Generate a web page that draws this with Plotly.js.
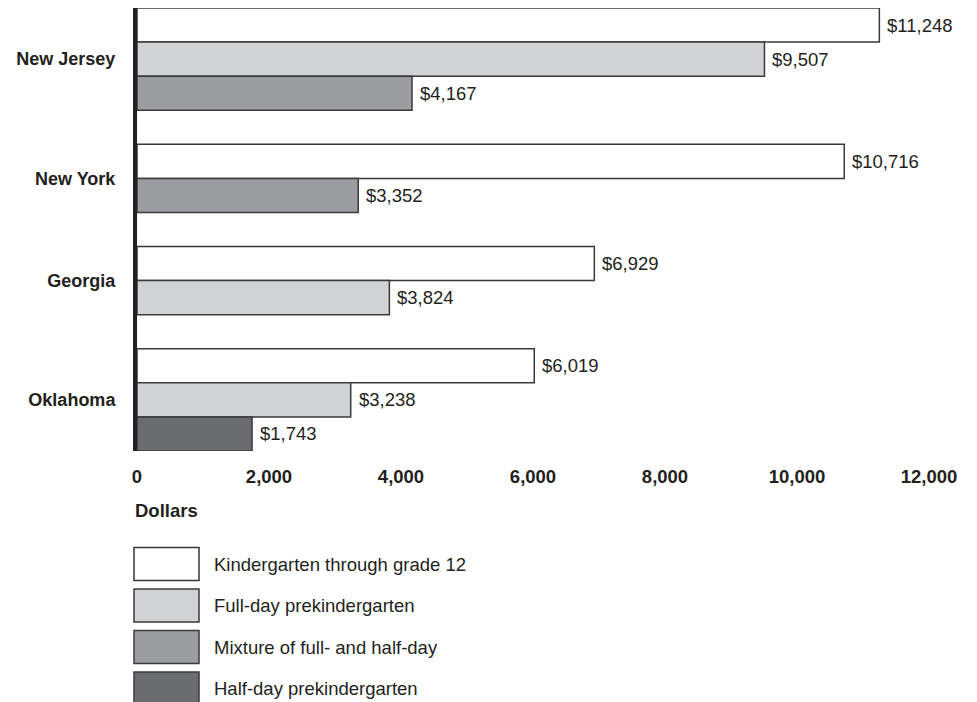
<!DOCTYPE html>
<html>
<head>
<meta charset="utf-8">
<script src="https://cdn.plot.ly/plotly-3.0.1.min.js"></script>
<style>
  html, body { margin: 0; padding: 0; background: #fff; }
  #chart { width: 977px; height: 702px; }
</style>
</head>
<body>
<div id="chart"></div>
<script>
// ---- Data ----
const states = ["New Jersey", "New York", "Georgia", "Oklahoma"];
const seriesNames = [
  "Kindergarten through grade 12",
  "Full-day prekindergarten",
  "Mixture of full- and half-day",
  "Half-day prekindergarten"
];
const k12      = [11248, 10716, 6929, 6019];
const fullDay  = [9507,  null,  3824, 3238];
const mixture  = [4167,  3352,  null, null];
const halfDay  = [null,  null,  null, 1743];
const xTickVals = [0, 2000, 4000, 6000, 8000, 10000, 12000];
const xTickText = ["0", "2,000", "4,000", "6,000", "8,000", "10,000", "12,000"];

// ---- Styles ----
const seriesValues = [k12, fullDay, mixture, halfDay];
const seriesColors = ["#ffffff", "#d2d3d5", "#9c9da0", "#6b6c6f"];
const outline = "#3a3a3a";
const FONT = "Liberation Sans, Arial, Helvetica, sans-serif";
const textColor = "#231f20";

// ---- Slot layout: bars of a state are stacked contiguously, one empty slot between states ----
const slotY = seriesValues.map(() => states.map(() => null));
const groupCenters = [];
let slot = 0;
let lastSlot = 0;
states.forEach((s, si) => {
  const used = [];
  seriesValues.forEach((vals, k) => {
    if (vals[si] !== null) { slotY[k][si] = slot; used.push(slot); lastSlot = slot; slot++; }
  });
  groupCenters.push(used.reduce((a, b) => a + b, 0) / used.length);
  slot++; // gap
});

const traces = seriesValues.map((vals, k) => {
  const xs = [], ys = [];
  vals.forEach((v, si) => { if (v !== null) { xs.push(v); ys.push(slotY[k][si]); } });
  return {
    type: "bar", orientation: "h", name: seriesNames[k],
    x: xs, y: ys, width: 1,
    marker: { color: seriesColors[k], line: { color: outline, width: 1.5 } },
    hoverinfo: "skip", showlegend: false
  };
});

// value labels
const annotations = [];
seriesValues.forEach((vals, k) => {
  vals.forEach((v, si) => {
    if (v === null) return;
    annotations.push({
      x: v, y: slotY[k][si], xref: "x", yref: "y",
      text: "$" + v.toLocaleString("en-US"),
      showarrow: false, xanchor: "left", yanchor: "middle", xshift: 6,
      font: { family: FONT, size: 18.5, color: textColor }
    });
  });
});

// Layout pixel helpers (plot area: left 137, right 929, top 8, bottom 451)
const L = 137, R = 929, T = 8, B = 451;
const px = v => (v - L) / (R - L);
const py = v => (B - v) / (B - T);

annotations.push({
  x: px(133), y: py(510), xref: "paper", yref: "paper",
  text: "<b>Dollars</b>", showarrow: false, xanchor: "left", yanchor: "middle",
  font: { family: FONT, size: 18.5, color: textColor }
});

const shapes = [];
seriesNames.forEach((name, k) => {
  const top = 547.5 + 41.5 * k;
  shapes.push({
    type: "rect", xref: "paper", yref: "paper",
    x0: px(134), x1: px(199), y0: py(top), y1: py(top + 33),
    fillcolor: seriesColors[k], line: { color: outline, width: 1.5 }
  });
  annotations.push({
    x: px(212), y: py(top + 16.5), xref: "paper", yref: "paper",
    text: name, showarrow: false, xanchor: "left", yanchor: "middle",
    font: { family: FONT, size: 18.5, color: textColor }
  });
});

const layout = {
  width: 977, height: 702,
  margin: { l: L, r: 977 - R, t: T, b: 702 - B, pad: 0 },
  paper_bgcolor: "#ffffff", plot_bgcolor: "#ffffff",
  barmode: "overlay",
  showlegend: false,
  font: { family: FONT, size: 18, color: textColor },
  xaxis: {
    range: [0, 12000], tickvals: xTickVals, ticktext: xTickText,
    showgrid: false, zeroline: false, showline: false,
    ticks: "outside", ticklen: 9, tickcolor: "rgba(0,0,0,0)",
    tickfont: { family: FONT, size: 18.5, color: textColor, weight: "bold" },
    fixedrange: true
  },
  yaxis: {
    range: [lastSlot + 0.5, -0.5],
    tickvals: groupCenters, ticktext: states,
    showgrid: false, zeroline: false,
    showline: true, linecolor: "#231f20", linewidth: 4,
    ticks: "outside", ticklen: 14, tickcolor: "rgba(0,0,0,0)",
    tickfont: { family: FONT, size: 18, color: textColor, weight: "bold" },
    fixedrange: true
  },
  shapes: shapes,
  annotations: annotations
};

Plotly.newPlot("chart", traces, layout, { displayModeBar: false, staticPlot: true });
</script>
</body>
</html>
